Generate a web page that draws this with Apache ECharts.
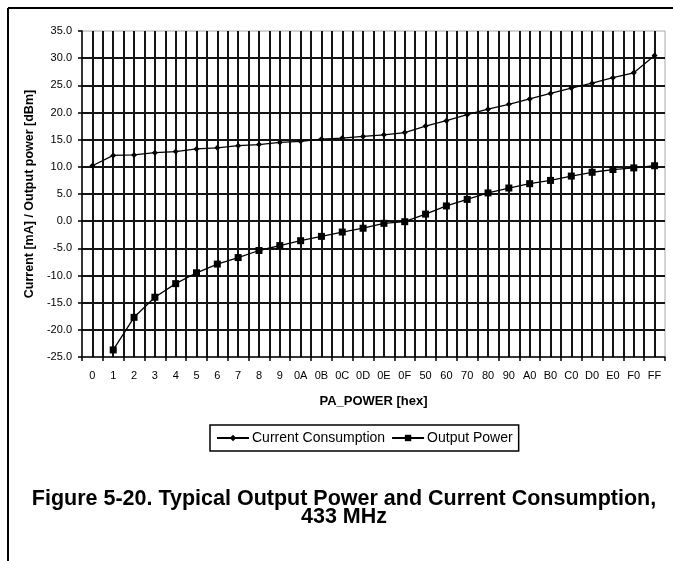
<!DOCTYPE html>
<html>
<head>
<meta charset="utf-8">
<script src="https://cdn.jsdelivr.net/npm/echarts@6/dist/echarts.min.js"></script>
<style>
  html, body { margin: 0; padding: 0; background: #fff; }
  #chart { width: 673px; height: 561px; }
</style>
</head>
<body>
<div id="chart"></div>
<script>
// PA_POWER settings (hex)
var categories = ["0", "1", "2", "3", "4", "5", "6", "7", "8", "9", "0A", "0B", "0C", "0D", "0E", "0F",
  "50", "60", "70", "80", "90", "A0", "B0", "C0", "D0", "E0", "F0", "FF"];

// current consumption [mA]
var currentConsumption = [10.2, 12.1, 12.2, 12.6, 12.8, 13.3, 13.5, 13.9, 14.1, 14.5, 14.7, 15.1, 15.3, 15.6,
  15.9, 16.3, 17.5, 18.5, 19.6, 20.6, 21.5, 22.5, 23.5, 24.5, 25.4, 26.4, 27.3, 30.5];

// output power [dBm]
var outputPower = [null, -23.7, -17.7, -14.0, -11.5, -9.5, -7.9, -6.7, -5.4, -4.5, -3.6, -2.8, -2.0, -1.3,
  -0.4, -0.1, 1.3, 2.8, 4.0, 5.2, 6.1, 6.9, 7.5, 8.3, 9.0, 9.5, 9.8, 10.2];

var yMin = -25, yMax = 35, yStep = 5;

var chart = echarts.init(document.getElementById("chart"));

var gridColor = "#141414";

var option = {
  animation: false,
  backgroundColor: "#fff",
  textStyle: { fontFamily: "Liberation Sans, Arial, sans-serif", color: "#000" },
  grid: {
    left: 82,
    right: 8,
    top: 31,
    bottom: 204,
    show: true,
    borderColor: "#a8a8a8",
    borderWidth: 1
  },
  legend: {
    left: 210,
    top: 425,
    padding: [6, 6],
    borderColor: "#000",
    borderWidth: 1.5,
    itemWidth: 32,
    itemHeight: 8,
    itemGap: 6,
    textStyle: { fontSize: 14, color: "#000", padding: [0, 0, 0, -2] },
    data: ["Current Consumption", "Output Power"]
  },
  xAxis: [
    {
      type: "category",
      data: categories,
      boundaryGap: true,
      name: "PA_POWER [hex]",
      nameLocation: "middle",
      nameGap: 38,
      nameTextStyle: { fontSize: 13, fontWeight: "bold", color: "#000" },
      axisLine: { onZero: false, lineStyle: { color: "#000", width: 1.5 } },
      axisTick: { show: true, length: 4, lineStyle: { color: "#000", width: 1.5 } },
      axisLabel: { fontSize: 11, color: "#000", margin: 13, interval: 0 },
      splitLine: { show: false }
    },
    {
      // helper axis: grid lines at category boundaries and centres
      type: "value",
      position: "top",
      min: 0,
      max: categories.length * 2,
      interval: 1,
      axisLine: { show: false },
      axisTick: { show: false },
      axisLabel: { show: false },
      splitLine: {
        show: true,
        showMinLine: false,
        showMaxLine: false,
        lineStyle: { color: gridColor, width: 2 }
      }
    }
  ],
  yAxis: {
    type: "value",
    min: yMin,
    max: yMax,
    interval: yStep,
    name: "Current [mA] / Output power [dBm]",
    nameLocation: "middle",
    nameGap: 44,
    nameTextStyle: { fontSize: 12.5, fontWeight: "bold", color: "#000" },
    axisLine: { show: true, onZero: false, lineStyle: { color: "#000", width: 1.5 } },
    axisTick: { show: true, length: 4, lineStyle: { color: "#000", width: 1.5 } },
    axisLabel: {
      fontSize: 11,
      color: "#000",
      margin: 10,
      formatter: function (v) { return v.toFixed(1); }
    },
    splitLine: {
      show: true,
      showMinLine: false,
      showMaxLine: false,
      lineStyle: { color: gridColor, width: 2 }
    }
  },
  series: [
    {
      name: "Current Consumption",
      type: "line",
      xAxisIndex: 0,
      data: currentConsumption,
      symbol: "diamond",
      symbolSize: 6,
      lineStyle: { color: "#000", width: 1.3 },
      itemStyle: { color: "#000" }
    },
    {
      name: "Output Power",
      type: "line",
      xAxisIndex: 0,
      data: outputPower,
      symbol: "rect",
      symbolSize: 7,
      lineStyle: { color: "#000", width: 1.3 },
      itemStyle: { color: "#000" }
    }
  ],
  graphic: [
    {
      type: "line",
      shape: { x1: 8, y1: 8, x2: 673, y2: 8 },
      style: { stroke: "#000", lineWidth: 2 }
    },
    {
      type: "line",
      shape: { x1: 8, y1: 8, x2: 8, y2: 561 },
      style: { stroke: "#000", lineWidth: 2 }
    },
    {
      type: "text",
      x: 344,
      y: 490,
      style: {
        text: "Figure 5-20. Typical Output Power and Current Consumption,\n433 MHz",
        textAlign: "center",
        textVerticalAlign: "top",
        font: "bold 21.5px 'Liberation Sans', Arial, sans-serif",
        lineHeight: 18,
        fill: "#000"
      }
    }
  ]
};

chart.setOption(option);
</script>
</body>
</html>
